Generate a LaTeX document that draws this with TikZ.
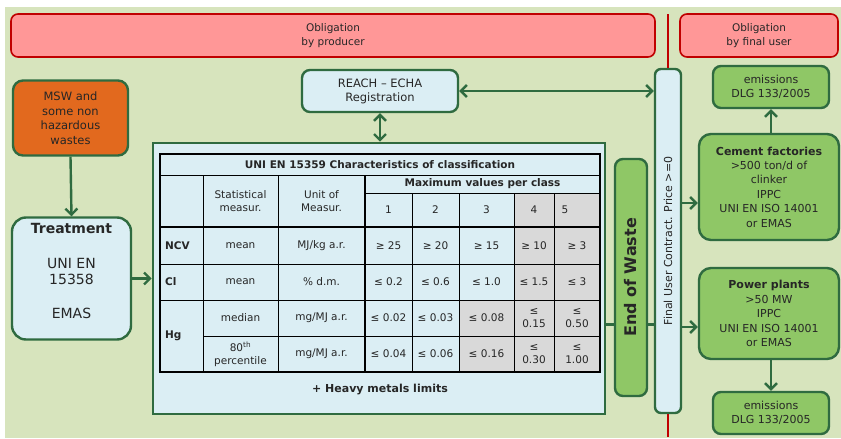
\documentclass[tikz,border=0pt]{standalone}
\usepackage{fontspec}
\setmainfont{DejaVu Sans}
\usetikzlibrary{arrows.meta}

\definecolor{bgGreen}{HTML}{D7E4BD}
\definecolor{oblRed}{HTML}{FF9797}
\definecolor{oblLine}{HTML}{C00000}
\definecolor{boxLine}{HTML}{2F6B40}
\definecolor{boxBlue}{HTML}{DBEEF4}
\definecolor{boxGreen}{HTML}{8FC766}
\definecolor{boxOrange}{HTML}{E2691E}
\definecolor{cellGray}{HTML}{D9D9D9}
\definecolor{txt}{HTML}{262626}

\tikzset{
  obl/.style={draw=oblLine, fill=oblRed, line width=1.6pt, rounded corners=7pt,
    text=txt, align=center, inner sep=0pt, font=\fontsize{10.5}{14}\selectfont},
  box/.style={draw=boxLine, line width=2.4pt, rounded corners=8pt, text=txt,
    align=center, inner sep=0pt},
  bluebox/.style={box, fill=boxBlue},
  greenbox/.style={box, fill=boxGreen, font=\fontsize{11}{14.4}\selectfont},
  flow/.style={draw=boxLine, line width=2.4pt, -{Straight Barb[length=6pt,width=12pt]}},
  both/.style={flow, {Straight Barb[length=6pt,width=12pt]}-{Straight Barb[length=6pt,width=12pt]}},
  link/.style={draw=boxLine, line width=2.4pt},
  cell/.style={text=txt, align=center, inner sep=0pt, font=\fontsize{10.5}{13}\selectfont},
  head/.style={cell, font=\fontsize{10.5}{13}\selectfont\bfseries},
}

\begin{document}
\begin{tikzpicture}[x=1pt, y=-1pt]
  \useasboundingbox (0,0) rectangle (841,439);
  \fill[white] (0,0) rectangle (841,439);
  \fill[bgGreen] (5,7) rectangle (841,438);

  % obligations
  \node[obl, minimum width=644pt, minimum height=43pt] (oblprod) at (333,35.5) {Obligation\\by producer};
  \node[obl, minimum width=158pt, minimum height=43pt] (oblfinal) at (759,35.5) {Obligation\\by final user};

  % producer side
  \node[box, fill=boxOrange, rounded corners=10pt, minimum width=115pt, minimum height=75pt,
    font=\fontsize{11.5}{14.5}\selectfont] (msw) at (70.5,118) {MSW and\\some non\\hazardous\\wastes};
  \node[bluebox, rounded corners=14pt, minimum width=119pt, minimum height=122pt] (treat) at (71.5,278.5) {};
  \node[text=txt, align=center, font=\fontsize{14}{16}\selectfont] (treattxt) at (71.5,271)
    {\textbf{Treatment}\\[19pt]UNI EN\\15358\\[18pt]EMAS};
  \node[bluebox, minimum width=156pt, minimum height=42pt, font=\fontsize{11.5}{14}\selectfont]
    (reach) at (380,91) {REACH – ECHA\\Registration};
  \node[draw=boxLine, fill=boxBlue, line width=2.6pt, minimum width=452pt, minimum height=271pt] (tbl) at (379,278.5) {};

  % table
  \fill[cellGray] (514,193) rectangle (600,372);
  \fill[cellGray] (459,300) rectangle (514,372);
  \draw[line width=0.8pt, black]
    (160,175) -- (600,175)
    (365,193) -- (600,193)
    (160,264) -- (600,264)
    (160,300) -- (600,300)
    (203,336) -- (600,336)
    (203,175) -- (203,372)
    (278,175) -- (278,372)
    \foreach \x in {412,459,514,554} {(\x,193) -- (\x,372)};
  \draw[line width=1.6pt] (160,154) rectangle (600,372)
    (160,227) -- (600,227) (365,175) -- (365,372);

  \node[head] (ttitle) at (380,164.5) {UNI EN 15359 Characteristics of classification};
  \node[head] (tmax) at (482.5,184) {Maximum values per class};
  \node[cell] (tstat) at (240.5,201) {Statistical\\measur.};
  \node[cell] (tunit) at (321.5,201) {Unit of\\Measur.};
  \foreach \x/\n in {388.5/1, 435.5/2, 486.5/3, 534/4, 565/5}
    \node[cell] (tcls\n) at (\x,210) {\n};
  \node[head, anchor=west] (tncv) at (165,245.5) {NCV};
  \node[head, anchor=west] (tcl) at (165,282) {Cl};
  \node[head, anchor=west] (thg) at (165,336) {Hg};
  \node[cell] (tmean1) at (240.5,245.5) {mean};
  \node[cell] (tmean2) at (240.5,282) {mean};
  \node[cell] (tmedian) at (240.5,318) {median};
  \node[cell] (tperc) at (240.5,354) {80\textsuperscript{th}\\percentile};
  \node[cell] (tunit1) at (321.5,245.5) {MJ/kg a.r.};
  \node[cell] (tunit2) at (321.5,282) {\% d.m.};
  \node[cell] (tunit3) at (321.5,318) {mg/MJ a.r.};
  \node[cell] (tunit4) at (321.5,354) {mg/MJ a.r.};
  \foreach \x/\v [count=\i] in {388.5/≥ 25, 435.5/≥ 20, 486.5/≥ 15, 534/≥ 10, 577/≥ 3}
    \node[cell] (vncv\i) at (\x,245.5) {\v};
  \foreach \x/\v [count=\i] in {388.5/≤ 0.2, 435.5/≤ 0.6, 486.5/≤ 1.0, 534/≤ 1.5, 577/≤ 3}
    \node[cell] (vcl\i) at (\x,282) {\v};
  \foreach \x/\v [count=\i] in {388.5/≤ 0.02, 435.5/≤ 0.03, 486.5/≤ 0.08, 534/{≤\\0.15}, 577/{≤\\0.50}}
    \node[cell] (vmed\i) at (\x,318) {\v};
  \foreach \x/\v [count=\i] in {388.5/≤ 0.04, 435.5/≤ 0.06, 486.5/≤ 0.16, 534/{≤\\0.30}, 577/{≤\\1.00}}
    \node[cell] (vperc\i) at (\x,354) {\v};
  \node[head, font=\fontsize{11}{13}\selectfont\bfseries] (theavy) at (380,390) {+ Heavy metals limits};

  % end of waste and final user
  \node[greenbox, minimum width=32pt, minimum height=237pt] (eow) at (631,277.5) {};
  \node[rotate=90, text=txt, font=\fontsize{16}{18}\selectfont\bfseries] (eowtxt) at (eow.center) {End of Waste};
  \node[bluebox, rounded corners=6pt, minimum width=26pt, minimum height=344pt] (fuser) at (668,241) {};
  \node[rotate=90, text=txt, font=\fontsize{11}{13}\selectfont] (fusertxt) at (fuser.center) {Final User Contract. Price >=0};

  % final users
  \node[greenbox, rounded corners=12pt, minimum width=140pt, minimum height=106pt] (cement) at (769,187)
    {\textbf{Cement factories}\\>500 ton/d of\\clinker\\IPPC\\UNI EN ISO 14001\\or EMAS};
  \node[greenbox, rounded corners=12pt, minimum width=140pt, minimum height=91pt] (power) at (769,313.5)
    {\textbf{Power plants}\\>50 MW\\IPPC\\UNI EN ISO 14001\\or EMAS};
  \node[greenbox, minimum width=116pt, minimum height=42pt] (emtop) at (771,87) {emissions\\DLG 133/2005};
  \node[greenbox, minimum width=116pt, minimum height=42pt] (embot) at (771,413) {emissions\\DLG 133/2005};

  % connectors
  \coordinate (redtop) at (668,14);
  \coordinate (redbot) at (668,437);
  \draw[oblLine, line width=1.3pt] (redtop) -- (fuser.north) (fuser.south) -- (redbot);
  \coordinate (eowin) at ([yshift=-47pt]eow.west);
  \coordinate (cemin) at ([yshift=-16pt]cement.west);
  \coordinate (powin) at ([yshift=-13.5pt]power.west);
  \draw[flow] (msw.south) -- (treat.north);
  \draw[flow] (treat.east) -- (tbl.west |- treat.east);
  \draw[both] (reach.south) -- (reach.south |- tbl.north);
  \draw[both] (reach.east) -- (fuser.west |- reach.east);
  \draw[link] (tbl.east |- eowin) -- (eowin);
  \draw[link] (eow.east |- eowin) -- (fuser.west |- eowin);
  \draw[flow] (fuser.east |- cemin) -- (cemin);
  \draw[flow] (fuser.east |- powin) -- (powin);
  \draw[flow] (cement.north -| emtop.south) -- (emtop.south);
  \draw[flow] (power.south -| embot.north) -- (embot.north);
\end{tikzpicture}
\end{document}
